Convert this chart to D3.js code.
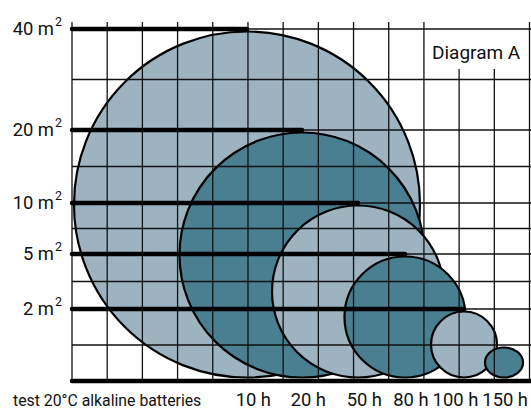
<!DOCTYPE html>
<html>
<head>
<meta charset="utf-8">
<script src="https://cdn.jsdelivr.net/npm/d3@7"></script>
<style>
  body { margin: 0; background: #fff; }
  svg text { font-family: Roboto, "Liberation Sans", sans-serif; }
</style>
</head>
<body>
<script>
//chart values
var levels = [40, 20, 10, 5, 2];              //thick line levels, m2
var levelLabels = ["40 m", "20 m", "10 m", "5 m", "2 m"];
var hours = [10, 20, 50, 80, 100, 150];       //test duration
var hourLabels = ["10 h", "20 h", "50 h", "80 h", "100 h", "150 h"];
var areas = [40, 20, 10, 5, 2, 1];            //area reached per duration, m2

window.onload = drawChart();

function drawChart(){

    var width = 531,
        height = 409;

    var svg = d3.select("body")
        .append("svg")
        .attr("width", width)
        .attr("height", height)
        .attr("fill", "#111");

    //hand-spaced value axes of the original drawing
    var y = d3.scaleLinear()
        .domain([0, 2, 5, 10, 20, 40])
        .range([381, 309, 254, 203, 130, 29]);

    var x = d3.scaleLinear()
        .domain([10, 20, 50, 80, 100, 150])
        .range([247, 302, 358, 405, 464, 504]);

    //grid columns
    var gx = d3.scaleLinear().domain([0, 13]).range([72, 529.5]);

    var light = "#9db4c0",
        dark = "#4a7e91";

    //circles, biggest first
    var y0 = y(0);
    svg.append("g")
        .selectAll("ellipse")
        .data(areas)
        .enter()
        .append("ellipse")
        .each(function(a, i){
            var top = y(a) + 1.5,
                bottom = y0 - 2.5,
                r = (bottom - top) / 2 - 1;
            d3.select(this)
                .attr("cx", x(hours[i]))
                .attr("cy", (top + bottom) / 2)
                .attr("ry", r)
                .attr("rx", i === areas.length - 1 ? r * 1.27 : r);
        })
        .attr("fill", function(d, i){ return i % 2 ? dark : light; })
        .attr("stroke", "#000")
        .attr("stroke-width", 2.2);

    //diagram title (placed first so the grid can stop under it)
    var title = svg.append("text")
        .attr("x", 432)
        .attr("y", 59)
        .attr("font-size", 19)
        .text("Diagram A");
    var tb = title.node().getBBox();

    //thin grid
    var rowValues = [0, 2, 5, 10, 20, 40];
    var rows = rowValues.map(y);
    d3.pairs(rows).forEach(function(p){ rows.push((p[0] + p[1]) / 2); });

    var grid = svg.append("g")
        .attr("stroke", "#111")
        .attr("stroke-width", 1.3);

    grid.selectAll(".h")
        .data(rows)
        .enter()
        .append("line")
        .attr("x1", gx(0))
        .attr("x2", width)
        .attr("y1", function(d){ return d; })
        .attr("y2", function(d){ return d; });

    grid.selectAll(".v")
        .data(d3.range(14))
        .enter()
        .append("line")
        .attr("x1", gx)
        .attr("x2", gx)
        .attr("y1", function(k){
            var cx = gx(k);
            return (cx > tb.x && cx < tb.x + tb.width) ? tb.y + tb.height + 5 : 22;
        })
        .attr("y2", y0);

    //thick level lines ending at each circle's top
    var thick = svg.append("g")
        .attr("stroke", "#000")
        .attr("stroke-width", 4.5)
        .attr("stroke-linecap", "round");

    thick.selectAll("line")
        .data(levels)
        .enter()
        .append("line")
        .attr("x1", gx(0))
        .attr("x2", function(d, i){ return x(hours[i]); })
        .attr("y1", y)
        .attr("y2", y);

    thick.append("line")
        .attr("x1", gx(0))
        .attr("x2", width + 5)
        .attr("y1", y0)
        .attr("y2", y0);

    //level labels with superscript 2
    var lab = svg.append("g")
        .selectAll("g")
        .data(levels)
        .enter()
        .append("g");

    lab.append("text")
        .attr("x", 54)
        .attr("y", function(d){ return y(d) + 6; })
        .attr("text-anchor", "end")
        .attr("font-size", 18.4)
        .text(function(d, i){ return levelLabels[i]; });

    lab.append("text")
        .attr("x", 55)
        .attr("y", function(d){ return y(d) - 3; })
        .attr("font-size", 12.5)
        .text("2");

    //hour labels, pushed left where they would collide
    var hl = svg.append("g")
        .selectAll("text")
        .data(hours)
        .enter()
        .append("text")
        .attr("x", function(d){ return x(d) + 24; })
        .attr("y", 406)
        .attr("text-anchor", "end")
        .attr("font-size", 18.4)
        .text(function(d, i){ return hourLabels[i]; });

    var nodes = hl.nodes();
    for (var i = nodes.length - 2; i >= 0; i--){
        var next = nodes[i + 1].getBBox(),
            cur = nodes[i].getBBox();
        if (cur.x + cur.width > next.x - 4){
            var shift = cur.x + cur.width - (next.x - 4);
            d3.select(nodes[i]).attr("x", +d3.select(nodes[i]).attr("x") - shift);
        }
    }

    svg.append("text")
        .attr("x", 13)
        .attr("y", 406)
        .attr("font-size", 15.8)
        .text("test 20°C alkaline batteries");
}
</script>
</body>
</html>
